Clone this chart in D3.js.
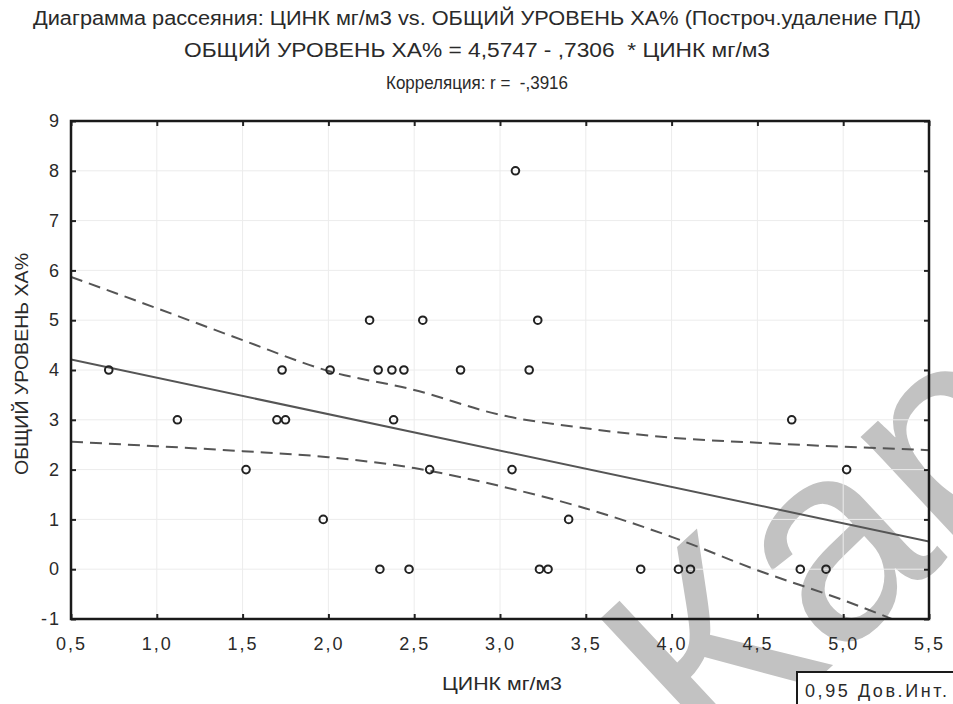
<!DOCTYPE html>
<html>
<head>
<meta charset="utf-8">
<script src="https://cdn.jsdelivr.net/npm/d3@7"></script>
<style>
  body { margin: 0; background: #fff; overflow: hidden; }
  text { font-family: "Liberation Sans", Arial, sans-serif; fill: #2a2a2a; white-space: pre; }
</style>
</head>
<body>
<script>
// --- data ---
const zinc = [0.72, 1.12, 1.52, 1.70, 1.73, 1.75, 1.97, 2.01, 2.24, 2.29, 2.30, 2.37, 2.38, 2.44, 2.47, 2.55,
              2.59, 2.77, 3.07, 3.09, 3.17, 3.22, 3.23, 3.28, 3.40, 3.82, 4.04, 4.11, 4.70, 4.75, 4.90, 5.02];
const xaLevel = [4, 3, 2, 3, 4, 3, 1, 4, 5, 4, 0, 4, 3, 4, 0, 5,
                 2, 4, 2, 8, 4, 5, 0, 0, 1, 0, 0, 0, 3, 0, 0, 2];

const intercept = 4.5747;
const slope = -0.7306;

// 95% confidence band, read at each x tick
const bandX = [0.5, 1.0, 1.5, 2.0, 2.5, 3.0, 3.5, 4.0, 4.5, 5.0, 5.5];
const bandUpper = [5.87, 5.24, 4.60, 3.98, 3.60, 3.10, 2.83, 2.64, 2.54, 2.46, 2.39];
const bandLower = [2.56, 2.47, 2.37, 2.25, 2.03, 1.67, 1.22, 0.65, -0.02, -0.62, -1.30];

const xTicks = [0.5, 1.0, 1.5, 2.0, 2.5, 3.0, 3.5, 4.0, 4.5, 5.0, 5.5];
const yTicks = [-1, 0, 1, 2, 3, 4, 5, 6, 7, 8, 9];

const titleLines = [
  "Диаграмма рассеяния: ЦИНК мг/м3 vs. ОБЩИЙ УРОВЕНЬ ХА% (Построч.удаление ПД)",
  "ОБЩИЙ УРОВЕНЬ ХА% = 4,5747 - ,7306  * ЦИНК мг/м3",
  "Корреляция: r =  -,3916"
];

const width = 953, height = 704;
const plot = { left: 71, top: 121, right: 929, bottom: 619 };

const loc = d3.formatLocale({ decimal: ",", thousands: " ", grouping: [3], currency: ["", ""], minus: "-" });
const fmtX = loc.format(".1f");
const fmtY = loc.format("d");

const svg = d3.select("body").append("svg")
  .attr("width", width)
  .attr("height", height);

const x = d3.scaleLinear().domain([0.5, 5.5]).range([plot.left, plot.right]);
const y = d3.scaleLinear().domain([-1, 9]).range([plot.bottom, plot.top]);

// watermark (behind everything)
svg.append("text")
  .attr("transform", "translate(715,775) rotate(-43)")
  .style("font-size", "280px")
  .style("fill", "#c2c2c2")
  .text("Карта");

// titles (narrow glyphs like the original)
const titleY = [25, 57, 89];
const titleW = [888, 586, 182];
const titleSize = [20, 20, 19];
titleLines.forEach((t, i) => {
  svg.append("text")
    .attr("x", 477).attr("y", titleY[i])
    .attr("text-anchor", "middle")
    .attr("textLength", titleW[i])
    .attr("lengthAdjust", "spacingAndGlyphs")
    .style("font-size", titleSize[i] + "px")
    .text(t);
});

// grid
const grid = svg.append("g").attr("class", "grid");
grid.selectAll("line.gx").data(xTicks).enter().append("line")
  .attr("x1", d => x(d)).attr("x2", d => x(d))
  .attr("y1", plot.top).attr("y2", plot.bottom)
  .attr("stroke", "#ececec").attr("stroke-width", 1);
grid.selectAll("line.gy").data(yTicks).enter().append("line")
  .attr("x1", plot.left).attr("x2", plot.right)
  .attr("y1", d => y(d)).attr("y2", d => y(d))
  .attr("stroke", "#ececec").attr("stroke-width", 1);

// axes (ticks pointing inward)
const styleAxis = g => {
  g.select(".domain").remove();
  g.selectAll(".tick line").attr("stroke", "#222").attr("stroke-width", 2);
  g.selectAll(".tick text").style("font-size", "18px").style("letter-spacing", "2px").attr("fill", "#2a2a2a");
};

svg.append("g")
  .attr("transform", `translate(0,${plot.bottom})`)
  .call(d3.axisBottom(x).tickValues(xTicks).tickFormat(fmtX).tickSize(-5).tickPadding(18))
  .call(styleAxis);
svg.append("g")
  .attr("transform", `translate(0,${plot.top})`)
  .call(d3.axisTop(x).tickValues(xTicks).tickFormat("").tickSize(-5))
  .call(styleAxis);
svg.append("g")
  .attr("transform", `translate(${plot.left},0)`)
  .call(d3.axisLeft(y).tickValues(yTicks).tickFormat(fmtY).tickSize(-5).tickPadding(10))
  .call(styleAxis);
svg.append("g")
  .attr("transform", `translate(${plot.right},0)`)
  .call(d3.axisRight(y).tickValues(yTicks).tickFormat("").tickSize(-5))
  .call(styleAxis);

// clip for lines
svg.append("clipPath").attr("id", "clip")
  .append("rect")
  .attr("x", plot.left).attr("y", plot.top)
  .attr("width", plot.right - plot.left).attr("height", plot.bottom - plot.top);

const lines = svg.append("g").attr("clip-path", "url(#clip)");

// regression line
lines.append("line")
  .attr("x1", x(0.5)).attr("y1", y(intercept + slope * 0.5))
  .attr("x2", x(5.5)).attr("y2", y(intercept + slope * 5.5))
  .attr("stroke", "#555").attr("stroke-width", 2);

// confidence bands
const bandLine = d3.line()
  .x(d => x(d[0]))
  .y(d => y(d[1]))
  .curve(d3.curveMonotoneX);

[bandUpper, bandLower].forEach(band => {
  lines.append("path")
    .attr("d", bandLine(bandX.map((v, i) => [v, band[i]])))
    .attr("fill", "none")
    .attr("stroke", "#555")
    .attr("stroke-width", 2)
    .attr("stroke-dasharray", "12,7");
});

// points
svg.append("g").selectAll("circle")
  .data(zinc.map((v, i) => [v, xaLevel[i]]))
  .enter().append("circle")
  .attr("cx", d => x(d[0]))
  .attr("cy", d => y(d[1]))
  .attr("r", 3.8)
  .attr("fill", "none")
  .attr("stroke", "#222")
  .attr("stroke-width", 2);

// frame
svg.append("rect")
  .attr("x", plot.left).attr("y", plot.top)
  .attr("width", plot.right - plot.left).attr("height", plot.bottom - plot.top)
  .attr("fill", "none").attr("stroke", "#1a1a1a").attr("stroke-width", 2.5);

// axis titles
svg.append("text")
  .attr("x", 502).attr("y", 690)
  .attr("text-anchor", "middle")
  .attr("textLength", 120)
  .attr("lengthAdjust", "spacingAndGlyphs")
  .style("font-size", "19px")
  .text("ЦИНК мг/м3");

svg.append("text")
  .attr("transform", `translate(28,364) rotate(-90)`)
  .attr("text-anchor", "middle")
  .attr("textLength", 222)
  .attr("lengthAdjust", "spacingAndGlyphs")
  .style("font-size", "19px")
  .text("ОБЩИЙ УРОВЕНЬ ХА%");

// legend box
svg.append("rect")
  .attr("x", 797).attr("y", 672)
  .attr("width", 170).attr("height", 50)
  .attr("fill", "#fff").attr("stroke", "#1a1a1a").attr("stroke-width", 2);
svg.append("text")
  .attr("x", 805).attr("y", 697)
  .attr("textLength", 142)
  .attr("lengthAdjust", "spacing")
  .style("font-size", "18px")
  .text("0,95 Дов.Инт.");
</script>
</body>
</html>
